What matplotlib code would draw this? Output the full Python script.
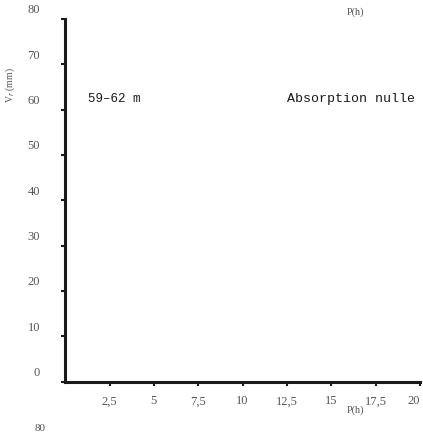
import matplotlib
matplotlib.use('Agg')
import matplotlib.pyplot as plt
from matplotlib.transforms import ScaledTranslation

# axis values
x_ticks = [2.5, 5, 7.5, 10, 12.5, 15, 17.5, 20]
x_labels = ['2,5', '5', '7,5', '10', '12,5', '15', '17,5', '20']
y_ticks = [0, 10, 20, 30, 40, 50, 60, 70, 80]
y_labels = ['0', '10', '20', '30', '40', '50', '60', '70', '80']

ink = '#1a1a1a'
grey = '#555555'

fig = plt.figure(figsize=(4.23, 4.35), dpi=100)
ax = fig.add_axes([0.154, 0.12, 0.839, 0.834])
ax.set_xlim(0, 20)
ax.set_ylim(0, 80)

for side in ['top', 'right']:
    ax.spines[side].set_visible(False)
for side in ['left', 'bottom']:
    ax.spines[side].set_linewidth(2.2)
    ax.spines[side].set_color(ink)

ax.set_xticks(x_ticks)
ax.set_xticklabels(x_labels)
ax.set_yticks(y_ticks)
ax.set_yticklabels(y_labels)
ax.tick_params(axis='both', length=3, width=1.5, color=ink,
               labelsize=9, labelcolor=grey, pad=6)
ax.tick_params(axis='y', pad=15)
for lab in ax.get_xticklabels() + ax.get_yticklabels():
    lab.set_family('Liberation Serif')
ax.get_xticklabels()[-1].set_horizontalalignment('right')
# the scan shows the y labels sitting a little above their ticks
for lab in ax.get_yticklabels():
    lab.set_transform(lab.get_transform() + ScaledTranslation(0, 8 / 72, fig.dpi_scale_trans))

ax.set_ylabel('V$_r$ (mm)', fontsize=7, color=grey, family='Liberation Serif')
ax.yaxis.set_label_coords(-0.135, 0.82)

ax.text(0.065, 0.783, '59–62 m', transform=ax.transAxes, fontsize=9,
        family='Liberation Mono', color=ink, va='center')
ax.text(0.985, 0.783, 'Absorption nulle', transform=ax.transAxes, fontsize=9.5,
        family='Liberation Mono', color=ink, va='center', ha='right')

fig.text(0.84, 0.052, 'P(h)', fontsize=7.5, color=grey, family='Liberation Serif', ha='center')
fig.text(0.84, 0.965, 'P(h)', fontsize=7.5, color=grey, family='Liberation Serif', ha='center')
fig.text(0.095, 0.005, '80', fontsize=8, color=grey, family='Liberation Serif', ha='center', va='bottom')

fig.savefig('out.png', dpi=100)
